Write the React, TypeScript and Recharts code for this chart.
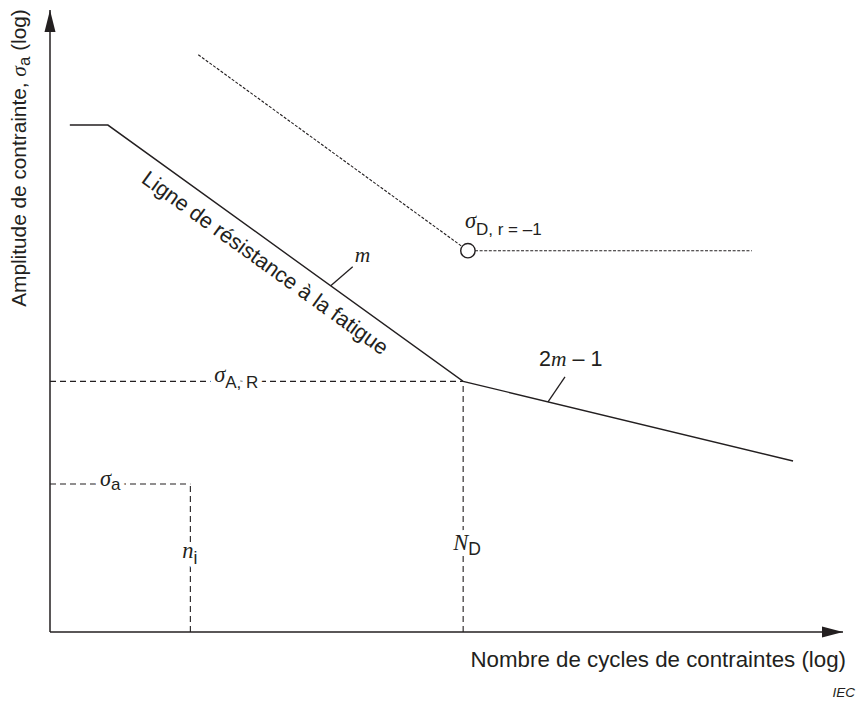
import { ComposedChart, Line, XAxis, YAxis, ReferenceLine, ReferenceDot } from "recharts";

const INK = "#231f20";
const SANS = "'Liberation Sans', Arial, Helvetica, sans-serif";
const SERIF = "'Liberation Serif', 'Times New Roman', serif";

// Schematic S-N diagram, both axes in log units (0..10 decades of the sketch)
const fatigueLogN = [0.25, 0.73, 5.21, 9.37];
const fatigueLogS = [8.15, 8.15, 4.03, 2.75];
const limitLogN = [1.87, 5.27, 8.85];
const limitLogS = [9.28, 6.13, 6.13];
const loadLogN = 1.77; // n_i
const loadLogS = 2.38; // sigma_a

const zip = (xs: number[], ys: number[]) => xs.map((x, i) => ({ x, y: ys[i] }));
const fatigueLine = zip(fatigueLogN, fatigueLogS);
const limitLine = zip(limitLogN, limitLogS);
const knee = fatigueLine[2];
const limitPoint = limitLine[1];

// point on the fatigue curve at a given log N (for leaders and the slanted caption)
const onCurve = (x: number) => {
  for (let i = 1; i < fatigueLine.length; i++) {
    const a = fatigueLine[i - 1];
    const b = fatigueLine[i];
    if (x <= b.x) return { x, y: a.y + ((x - a.x) / (b.x - a.x)) * (b.y - a.y) };
  }
  return fatigueLine[fatigueLine.length - 1];
};

const slopeM = onCurve(3.54);
const slope2m = onCurve(6.28);
const captionAt = onCurve(2.86);

const XTitle = (props: any) => {
  const { x, y, width } = props.viewBox;
  return (
    <g fill={INK} fontFamily={SANS}>
      <text x={x + width + 3} y={y + 35} textAnchor="end" fontSize={22.3}>
        Nombre de cycles de contraintes (log)
      </text>
      <text x={x + width + 12} y={y + 65} textAnchor="end" fontSize={13.5} fontStyle="italic">
        IEC
      </text>
    </g>
  );
};

const YTitle = (props: any) => {
  const { y } = props.viewBox;
  return (
    <text
      transform={`translate(26, ${y + 148}) rotate(-90)`}
      textAnchor="middle"
      fill={INK}
      fontFamily={SANS}
      fontSize={20.8}
    >
      Amplitude de contrainte,{" "}
      <tspan fontFamily={SERIF} fontStyle="italic" fontSize={21.5}>σ</tspan>
      <tspan dy={4} fontSize={17}>a</tspan>
      <tspan dy={-4}> (log)</tspan>
    </text>
  );
};

const xArrow = (p: any) => (
  <path d={`M${p.cx},${p.cy} L${p.cx - 21},${p.cy - 5.5} L${p.cx - 21},${p.cy + 5.5} Z`} fill={INK} />
);
const yArrow = (p: any) => (
  <path d={`M${p.cx},${p.cy} L${p.cx - 5.5},${p.cy + 22} L${p.cx + 5.5},${p.cy + 22} Z`} fill={INK} />
);

// text drawn twice: a thick white copy first to cut the dashed line, then the ink
const withKnockout = (node: (extra: any) => any, knockOut: boolean) => (
  <g>
    {knockOut && node({ fill: "#fff", stroke: "#fff", strokeWidth: 10, strokeLinejoin: "round" })}
    {node({ fill: INK })}
  </g>
);

const sigmaLabel = (sub: string, dx: number, dy: number, subDy: number, knockOut: boolean) => (p: any) =>
  withKnockout(
    (extra) => (
      <text x={p.cx + dx} y={p.cy + dy} {...extra}>
        <tspan fontFamily={SERIF} fontStyle="italic" fontSize={22.5}>σ</tspan>
        <tspan fontFamily={SANS} fontSize={17} dy={subDy}>{sub}</tspan>
      </text>
    ),
    knockOut
  );

const italicSub = (main: string, sub: string, dx: number, dy: number, subDy: number) => (p: any) =>
  withKnockout(
    (extra) => (
      <text x={p.cx + dx} y={p.cy + dy} {...extra}>
        <tspan fontFamily={SERIF} fontStyle="italic" fontSize={22.5}>{main}</tspan>
        <tspan fontFamily={SANS} fontSize={17.5} dy={subDy}>{sub}</tspan>
      </text>
    ),
    true
  );

const mLeader = (p: any) => (
  <g>
    <line x1={p.cx} y1={p.cy} x2={p.cx + 22} y2={p.cy - 19} stroke={INK} strokeWidth={1.3} />
    <text x={p.cx + 24} y={p.cy - 24} fill={INK} fontFamily={SERIF} fontStyle="italic" fontSize={21.5}>
      m
    </text>
  </g>
);

const m2Leader = (p: any) => (
  <g>
    <line x1={p.cx} y1={p.cy} x2={p.cx + 17} y2={p.cy - 25} stroke={INK} strokeWidth={1.3} />
    <text x={p.cx - 9} y={p.cy - 36} fill={INK} fontFamily={SANS} fontSize={21.5}>
      2<tspan fontFamily={SERIF} fontStyle="italic">m</tspan> – 1
    </text>
  </g>
);

const caption = (p: any) => (
  <text
    transform={`translate(${p.cx}, ${p.cy}) rotate(35.8)`}
    y={27}
    textAnchor="middle"
    fill={INK}
    fontFamily={SANS}
    fontSize={21.5}
  >
    Ligne de résistance à la fatigue
  </text>
);

const openCircleDot = (p: any) =>
  p.index === 1 ? (
    <circle key="d" cx={p.cx} cy={p.cy} r={7.2} fill="#fff" stroke={INK} strokeWidth={1.4} />
  ) : (
    <g key={`d${p.index}`} />
  );

export default function App() {
  return (
    <div style={{ position: "absolute", left: 0, top: 0, background: "#fff" }}>
      <ComposedChart width={857} height={704} margin={{ top: 10, right: 14, bottom: 0, left: 0 }}>
        <XAxis
          type="number"
          dataKey="x"
          domain={[0, 10]}
          height={72}
          tick={false}
          tickLine={false}
          axisLine={{ stroke: INK, strokeWidth: 1.5 }}
          label={XTitle}
        />
        <YAxis
          type="number"
          dataKey="y"
          domain={[0, 10]}
          width={50}
          tick={false}
          tickLine={false}
          axisLine={{ stroke: INK, strokeWidth: 1.5 }}
          label={YTitle}
        />

        <ReferenceLine
          segment={[{ x: 0, y: knee.y }, { x: knee.x, y: knee.y }]}
          stroke={INK}
          strokeWidth={1.1}
          strokeDasharray="6 4"
        />
        <ReferenceLine
          segment={[{ x: knee.x, y: 0 }, { x: knee.x, y: knee.y }]}
          stroke={INK}
          strokeWidth={1.1}
          strokeDasharray="6 4"
        />
        <ReferenceLine
          segment={[{ x: 0, y: loadLogS }, { x: loadLogN, y: loadLogS }]}
          stroke={INK}
          strokeWidth={1.1}
          strokeDasharray="6 4"
        />
        <ReferenceLine
          segment={[{ x: loadLogN, y: 0 }, { x: loadLogN, y: loadLogS }]}
          stroke={INK}
          strokeWidth={1.1}
          strokeDasharray="6 4"
        />

        <Line
          data={limitLine}
          dataKey="y"
          type="linear"
          stroke={INK}
          strokeWidth={1.1}
          strokeDasharray="3 1.6"
          dot={openCircleDot}
          activeDot={false}
          isAnimationActive={false}
        />
        <Line
          data={fatigueLine}
          dataKey="y"
          type="linear"
          stroke={INK}
          strokeWidth={1.4}
          dot={false}
          activeDot={false}
          isAnimationActive={false}
        />

        <ReferenceDot x={10} y={0} r={0} shape={xArrow} />
        <ReferenceDot x={0} y={10} r={0} shape={yArrow} />

        <ReferenceDot x={limitPoint.x} y={limitPoint.y} r={0} shape={sigmaLabel("D, r = –1", -3, -23, 7, false)} />
        <ReferenceDot x={2.07} y={knee.y} r={0} shape={sigmaLabel("A, R", 0, 1, 6, true)} />
        <ReferenceDot x={0.63} y={loadLogS} r={0} shape={sigmaLabel("a", 0, 2, 4, true)} />
        <ReferenceDot x={knee.x} y={1.32} r={0} shape={italicSub("N", "D", -10, 0, 5)} />
        <ReferenceDot x={loadLogN} y={1.19} r={0} shape={italicSub("n", "i", -8, 0, 6)} />

        <ReferenceDot x={slopeM.x} y={slopeM.y} r={0} shape={mLeader} />
        <ReferenceDot x={slope2m.x} y={slope2m.y} r={0} shape={m2Leader} />
        <ReferenceDot x={captionAt.x} y={captionAt.y} r={0} shape={caption} />
      </ComposedChart>
    </div>
  );
}
